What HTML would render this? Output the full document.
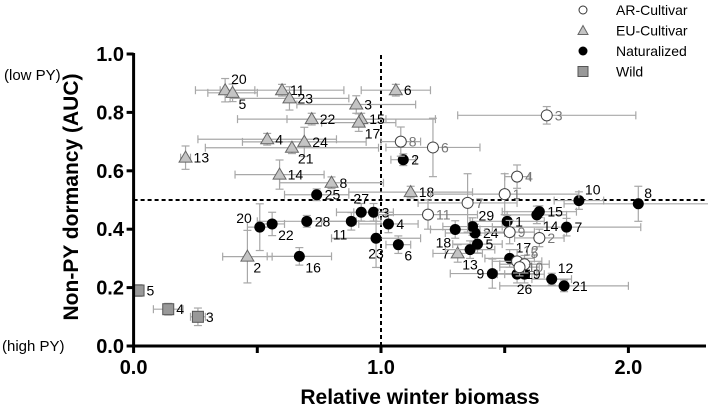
<!DOCTYPE html>
<html><head><meta charset="utf-8"><style>
body{margin:0;background:#fff}
svg text{font-family:"Liberation Sans",Arial,sans-serif}
</style></head><body>
<svg id="chart" width="708" height="412" viewBox="0 0 708 412" xmlns="http://www.w3.org/2000/svg">
<g id="plot"></g>
<g id="axes"></g>
<g id="legend"></g>
</svg>
<script>
// [label, x, y, xerr, yerr]
const arCultivar=[["3",1.67,0.79,0.36,0.03],["8",1.08,0.70,0.08,0.05],["6",1.21,0.68,0.19,0.10],["4",1.55,0.58,0.05,0.04],["1",1.50,0.52,0.3,0.07],["7",1.35,0.49,0.2,0.1],["11",1.19,0.45,0.2,0.05],["9",1.52,0.39,0.1,0.04],["2",1.64,0.37,0.1,0.03],["12",1.55,0.29,0.1,0.04],["5",1.58,0.28,0.1,0.03],["10",1.56,0.27,0.08,0.03]];
const euCultivar=[["20",0.37,0.876,0.12,0.04],["5",0.40,0.867,0.1,0.03],["11",0.60,0.876,0.25,0.02],["23",0.63,0.848,0.24,0.04],["3",0.90,0.827,0.24,0.03],["22",0.72,0.777,0.3,0.02],["15",0.92,0.777,0.3,0.02],["17",0.91,0.765,0.15,0.03],["4",0.54,0.708,0.28,0.02],["24",0.69,0.699,0.25,0.05],["21",0.64,0.679,0.35,0.02],["13",0.21,0.645,0.02,0.04],["14",0.59,0.587,0.18,0.05],["8",0.80,0.559,0.21,0.02],["6",1.06,0.876,0.14,0.02],["18",1.12,0.527,0.25,0.02],["2",0.46,0.306,0.1,0.09],["7",1.31,0.317,0.1,0.03]];
const naturalized=[["2",1.09,0.638,0.05,0.02],["10",1.80,0.498,0.1,0.03],["8",2.04,0.487,0.3,0.06],["15",1.64,0.46,0.15,0.02],["14",1.63,0.449,0.12,0.03],["1",1.51,0.427,0.15,0.02],["7",1.75,0.407,0.3,0.03],["29",1.37,0.409,0.12,0.03],["24",1.38,0.387,0.12,0.03],["18",1.30,0.399,0.1,0.03],["5",1.39,0.349,0.1,0.03],["13",1.36,0.33,0.1,0.03],["17",1.52,0.30,0.1,0.03],["9",1.45,0.248,0.17,0.05],["19",1.55,0.246,0.08,0.03],["26",1.58,0.246,0.08,0.03],["12",1.69,0.229,0.08,0.02],["21",1.74,0.206,0.26,0.02],["25",0.74,0.518,0.13,0.02],["27",0.92,0.458,0.1,0.03],["3",0.97,0.458,0.08,0.03],["28",0.70,0.427,0.2,0.02],["11",0.88,0.427,0.12,0.03],["4",1.03,0.418,0.12,0.03],["20",0.51,0.407,0.05,0.08],["22",0.56,0.418,0.05,0.04],["23",0.98,0.369,0.18,0.1],["6",1.07,0.347,0.05,0.03],["16",0.67,0.307,0.13,0.03]];
const wild=[["5",0.02,0.19,0.01,0.02],["4",0.14,0.126,0.06,0.02],["3",0.26,0.10,0.03,0.03]];
const xTicks=[0,0.5,1,1.5,2];
const xTickLabels=["0.0","","1.0","","2.0"];
const yTicks=[0,0.2,0.4,0.6,0.8,1.0];
const yTickLabels=["0.0","0.2","0.4","0.6","0.8","1.0"];

// label placement (presentation only)
const labelPlace={"eu-cultivar":{"20":"tr","5":"br","17":"br","21":"br","2":"br","7":"l","23":"r","6":"r"},
 "naturalized":{"20":"tl","22":"br","11":"bl","23":"b","6":"br","16":"br","27":"t","10":"tr","8":"tr","14":"br","9":"l","19":"r","26":"b","13":"b","18":"bl","29":"tr","21":"r","17":"tr","12":"tr","5":"r","25":"r"},
 "ar-cultivar":{"12":"tr","5":"tr","10":"r"}};
const X=v=>133.6+247.4*v, Y=v=>346-292*v;
const NS="http://www.w3.org/2000/svg";
function mk(tag,attrs,parent,text){const e=document.createElementNS(NS,tag);for(const k in attrs)e.setAttribute(k,attrs[k]);if(text!==undefined)e.textContent=text;parent.appendChild(e);return e;}
const plot=document.getElementById('plot'),axes=document.getElementById('axes'),legend=document.getElementById('legend');
let r1=mk('line',{x1:X(0),x2:705,y1:Y(0.5),y2:Y(0.5),stroke:'#000','stroke-width':2,'stroke-dasharray':'4,3'},plot);


let r2=mk('line',{x1:X(1),x2:X(1),y1:Y(0),y2:Y(1),stroke:'#000','stroke-width':2,'stroke-dasharray':'4,3'},plot);


function errbars(d,g){const x=X(d[1]),y=Y(d[2]),x1=X(d[1]-d[3]),x2=X(d[1]+d[3]),y1=Y(d[2]-d[4]),y2=Y(d[2]+d[4]);
 const s={stroke:'#a8a8a8','stroke-width':1.2};
 mk('line',Object.assign({x1:x1,x2:x2,y1:y,y2:y},s),g);mk('line',Object.assign({x1:x1,x2:x1,y1:y-4,y2:y+4},s),g);mk('line',Object.assign({x1:x2,x2:x2,y1:y-4,y2:y+4},s),g);
 mk('line',Object.assign({x1:x,x2:x,y1:y1,y2:y2},s),g);mk('line',Object.assign({x1:x-4,x2:x+4,y1:y1,y2:y1},s),g);mk('line',Object.assign({x1:x-4,x2:x+4,y1:y2,y2:y2},s),g);}
function labelPos(name,lab,x,y){const p=(labelPlace[name]||{})[lab]||'r';
 if(p==='l')return [x-8,y+5,'end'];
 if(p==='tl')return [x-8,y-4,'end'];
 if(p==='bl')return [x-4,y+18,'end'];
 if(p==='tr')return [x+6,y-6,'start'];
 if(p==='br')return [x+6,y+16,'start'];
 if(p==='t')return [x,y-9,'middle'];
 if(p==='b')return [x,y+20,'middle'];
 return [x+8,y+5,'start'];}
function series(data,kind,name,labelColor){
 const g=mk('g',{},plot);
 
 
 data.forEach(d=>errbars(d,g));
 data.forEach(d=>{const x=X(d[1]),y=Y(d[2]);let m;
  if(kind==='circle-open')m=mk('circle',{cx:x,cy:y,r:5.5,fill:'#fff',stroke:'#444','stroke-width':1},g);
  else if(kind==='circle')m=mk('circle',{cx:x,cy:y,r:5.5,fill:'#000'},g);
  else if(kind==='tri')m=mk('polygon',{points:`${x},${y-6.5} ${x-6.5},${y+4.5} ${x+6.5},${y+4.5}`,fill:'#c4c4c4',stroke:'#666','stroke-width':1},g);
  else m=mk('rect',{x:x-5.5,y:y-5.5,width:11,height:11,fill:'#999',stroke:'#555','stroke-width':1},g);
  
  
  const lp=labelPos(name,d[0],x,y);
  const t=mk('text',{x:lp[0],y:lp[1],'text-anchor':lp[2],'font-size':14,fill:labelColor},g,d[0]);
  
  
 });}
series(euCultivar,'tri','eu-cultivar','#000');
series(naturalized,'circle','naturalized','#000');
series(arCultivar,'circle-open','ar-cultivar','#777');
series(wild,'square','wild','#000');
let ax=mk('line',{x1:X(0),x2:706,y1:346,y2:346,stroke:'#000','stroke-width':3},axes);


let ay=mk('line',{x1:X(0),x2:X(0),y1:Y(1)-1,y2:347,stroke:'#000','stroke-width':3},axes);


xTicks.forEach((v,i)=>{mk('line',{x1:X(v),x2:X(v),y1:346,y2:353,stroke:'#000','stroke-width':3},axes);
 if(xTickLabels[i]){const t=mk('text',{x:X(v),y:374,'font-size':20,'font-weight':'bold','text-anchor':'middle'},axes,xTickLabels[i]);
 
 }});
yTicks.forEach((v,i)=>{mk('line',{x1:X(0)-7,x2:X(0),y1:Y(v),y2:Y(v),stroke:'#000','stroke-width':3},axes);
 const t=mk('text',{x:124,y:Y(v)+7,'font-size':20,'font-weight':'bold','text-anchor':'end'},axes,yTickLabels[i]);
 
 });
let xt=mk('text',{x:420,y:404,'font-size':21,'font-weight':'bold','text-anchor':'middle'},axes,'Relative winter biomass');


let yt=mk('text',{x:0,y:0,'font-size':21,'font-weight':'bold','text-anchor':'middle',transform:'translate(78,197) rotate(-90)'},axes,'Non-PY dormancy (AUC)');


let lo=mk('text',{x:4,y:80,'font-size':15},axes,'(low PY)');


let hi=mk('text',{x:2,y:351,'font-size':15},axes,'(high PY)');


const legendNames=["AR-Cultivar","EU-Cultivar","Naturalized","Wild"];
legendNames.forEach((n,i)=>{const y=10+i*20.5,x=583;
 if(i===0)mk('circle',{cx:x,cy:y,r:4,fill:'#fff',stroke:'#333'},legend);
 else if(i===1)mk('polygon',{points:`${x},${y-5} ${x-5},${y+4} ${x+5},${y+4}`,fill:'#c4c4c4',stroke:'#666'},legend);
 else if(i===2)mk('circle',{cx:x,cy:y,r:4.5,fill:'#000'},legend);
 else mk('rect',{x:x-5,y:y-5,width:10,height:10,fill:'#999',stroke:'#555'},legend);
 const t=mk('text',{x:616,y:y+5,'font-size':14},legend,n);
 
 });
</script>
</body></html>
